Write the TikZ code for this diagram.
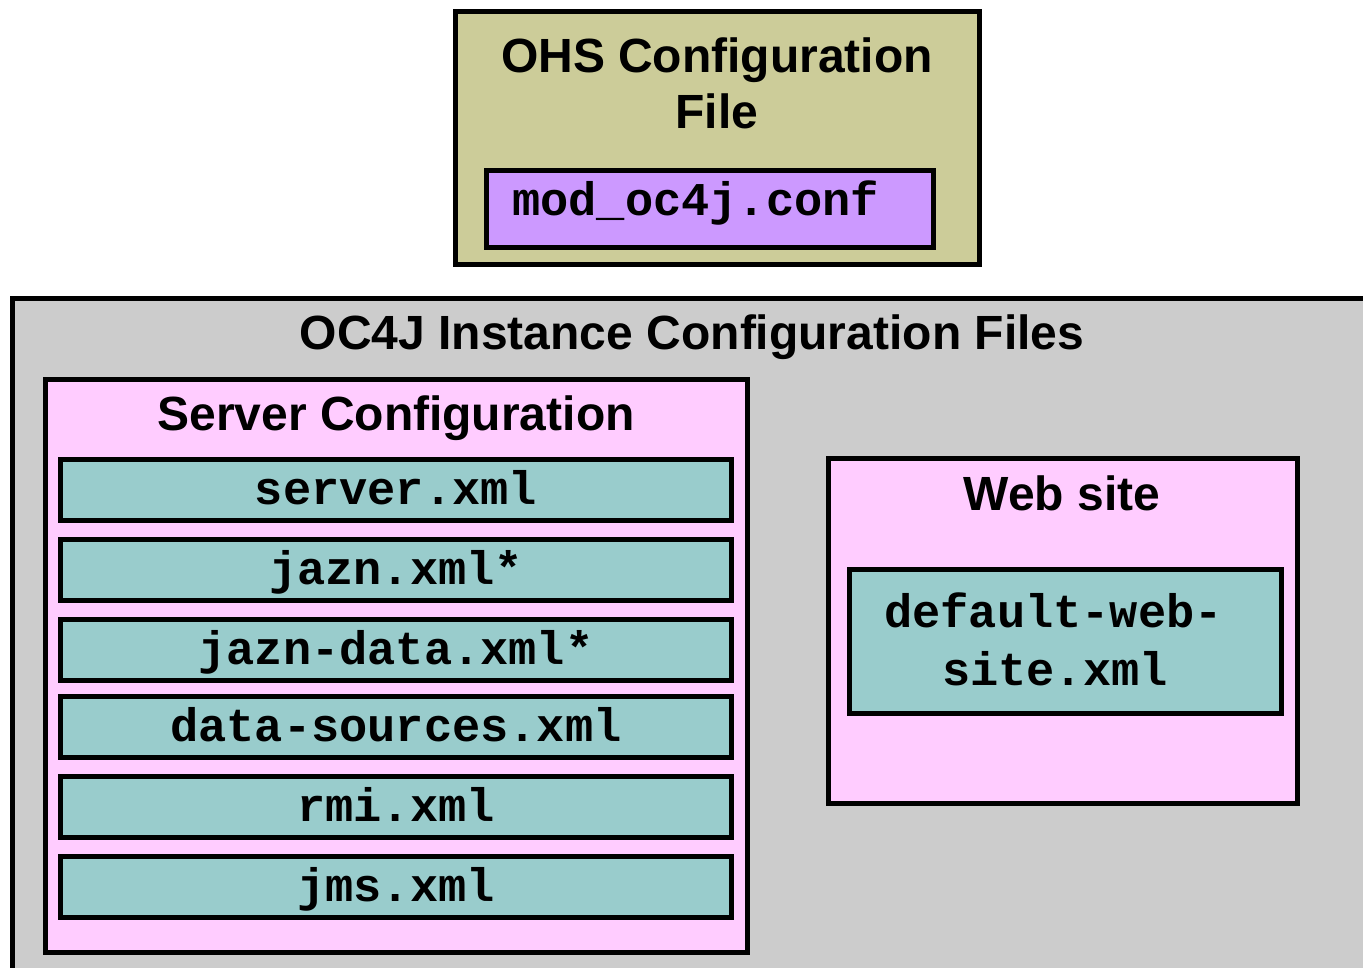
\documentclass[tikz,border=0pt]{standalone}
\usepackage{fontspec}
\setmainfont{Liberation Sans}
\setmonofont{Liberation Mono}
\definecolor{ohsfill}{HTML}{CCCC99}
\definecolor{modfill}{HTML}{CC99FF}
\definecolor{grayfill}{HTML}{CCCCCC}
\definecolor{pinkfill}{HTML}{FFCCFF}
\definecolor{tealfill}{HTML}{99CCCC}
\tikzset{
  box/.style={draw=black, line width=5pt, inner sep=0pt, outer sep=0pt, anchor=north west, rectangle},
  title/.style={inner sep=0pt, anchor=base, font=\fontsize{48}{56}\selectfont\bfseries, align=center},
  code/.style={inner sep=0pt, anchor=base, font=\fontsize{47}{58}\selectfont\ttfamily\bfseries, align=center},
}
\begin{document}
\begin{tikzpicture}[x=1pt,y=-1pt]
\useasboundingbox (0,0) rectangle (1363,967);
\clip (0,0) rectangle (1363,967);
% OHS box
\node[box, fill=ohsfill, minimum width=524pt, minimum height=253pt] (ohs) at (455.5,11.5) {};
\node[title] (ohst1) at (717,72) {OHS Configuration};
\node[title] (ohst2) at (717,128) {File};
\node[box, fill=modfill, minimum width=447pt, minimum height=77pt] (mod) at (486.5,170.5) {};
\node[code, anchor=base west] (modt) at (512,215) {mod\_oc4j.conf};
% OC4J instance
\node[box, fill=grayfill, minimum width=1400pt, minimum height=700pt] (oc4j) at (12.5,298.5) {};
\node[title] (oc4jt) at (692,349) {OC4J Instance Configuration Files};
% Server configuration
\node[box, fill=pinkfill, minimum width=702pt, minimum height=573pt] (srv) at (45.5,379.5) {};
\node[title] (srvt) at (396,430) {Server Configuration};
\foreach \n/\y/\t in {r1/459.5/server.xml, r2/539.5/jazn.xml*, r3/619.5/jazn-data.xml*, r4/696.5/data-sources.xml, r5/776.5/rmi.xml, r6/856.5/jms.xml}{
  \node[box, fill=tealfill, minimum width=671pt, minimum height=61pt] (\n) at (60.5,\y) {};
  \node[code] (\n t) at ([yshift=-14pt]\n.center) {\t};
}
% Web site
\node[box, fill=pinkfill, minimum width=469pt, minimum height=345pt] (web) at (828.5,458.5) {};
\node[title] (webt) at (1062,510) {Web site};
\node[box, fill=tealfill, minimum width=432pt, minimum height=144pt] (dws) at (849.5,569.5) {};
\node[code, anchor=base west] (dwst1) at (884,627) {default-web-};
\node[code] (dwst2) at (1055,685) {site.xml};
\end{tikzpicture}
\end{document}
